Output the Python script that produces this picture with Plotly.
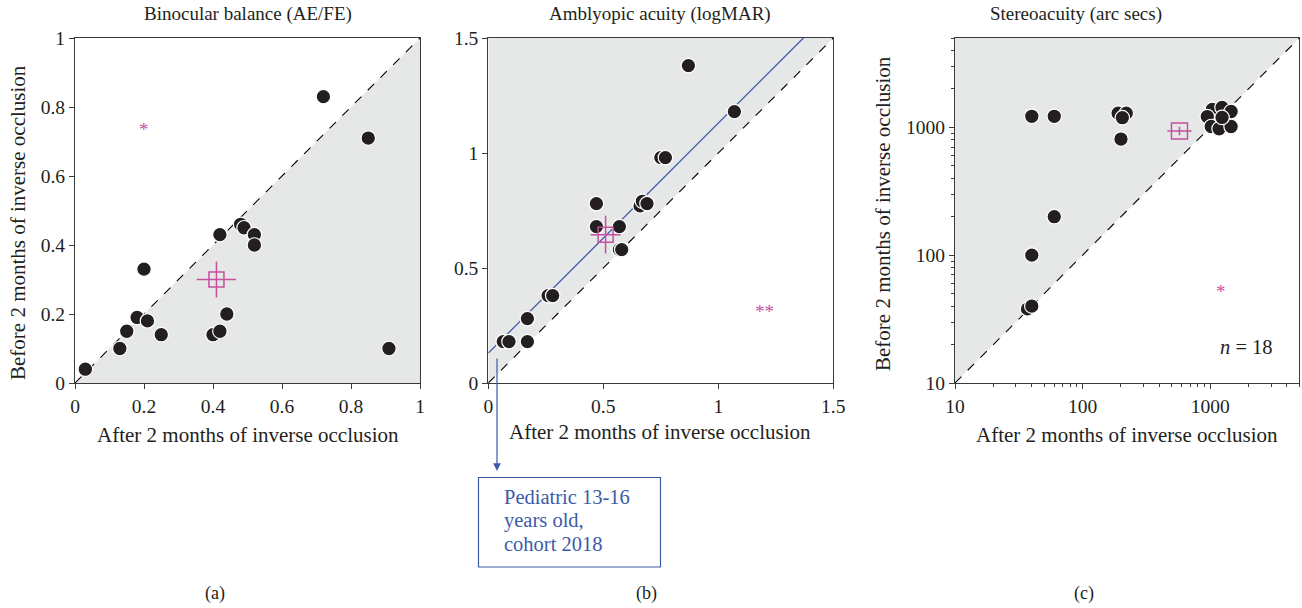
import plotly.graph_objects as go
import math

# ---------------- data ----------------
# Panel (a) Binocular balance (AE/FE)
bal_after = [0.03, 0.13, 0.15, 0.18, 0.21, 0.20, 0.25, 0.40, 0.42, 0.44, 0.42, 0.48, 0.49, 0.52, 0.52, 0.72, 0.85, 0.91]
bal_before = [0.04, 0.10, 0.15, 0.19, 0.18, 0.33, 0.14, 0.14, 0.15, 0.20, 0.43, 0.46, 0.45, 0.43, 0.40, 0.83, 0.71, 0.10]
bal_mean = (0.41, 0.30)
bal_err = (0.057, 0.052)
bal_star = (0.20, 0.735)

# Panel (b) Amblyopic acuity (logMAR)
acu_after = [0.065, 0.09, 0.17, 0.17, 0.26, 0.28, 0.47, 0.47, 0.57, 0.57, 0.58, 0.66, 0.67, 0.69, 0.75, 0.77, 0.87, 1.07]
acu_before = [0.18, 0.18, 0.18, 0.28, 0.38, 0.38, 0.78, 0.68, 0.68, 0.58, 0.58, 0.77, 0.79, 0.78, 0.98, 0.98, 1.38, 1.18]
acu_mean = (0.51, 0.645)
acu_err = (0.065, 0.082)
acu_fit = (1.0, 0.13)  # slope, intercept
acu_star = (1.20, 0.31)

# Panel (c) Stereoacuity (arc secs)
st_after = [40, 60, 60, 40, 37, 40, 190, 220, 205, 200, 1040, 1240, 1460, 950, 1020, 1175, 1460, 1240]
st_before = [1220, 1220, 200, 100, 38, 40, 1290, 1290, 1190, 810, 1380, 1430, 1330, 1215, 1015, 975, 1015, 1195]
st_mean = (575, 935)
st_err_x = (140, 113)
st_err_y = (75, 68)
st_star = (1220, 52)

bal_ticks = [0, 0.2, 0.4, 0.6, 0.8, 1]
bal_ticktext = ["0", "0.2", "0.4", "0.6", "0.8", "1"]
acu_ticks = [0, 0.5, 1, 1.5]
acu_ticktext = ["0", "0.5", "1", "1.5"]
st_ticks = [10, 100, 1000]
st_ticktext = ["10", "100", "1000"]
st_minor = [20, 30, 40, 50, 60, 70, 80, 90, 200, 300, 400, 500, 600, 700, 800, 900, 2000, 3000, 4000, 5000]

titles = ["Binocular balance (AE/FE)", "Amblyopic acuity (logMAR)", "Stereoacuity (arc secs)"]
xlabel = "After 2 months of inverse occlusion"
ylabel = "Before 2 months of inverse occlusion"
panel_labels = ["(a)", "(b)", "(c)"]
box_lines = ["Pediatric 13-16", "years old,", "cohort 2018"]

# ---------------- style ----------------
W, H = 1302, 608
FONT = "Liberation Serif"
DOT = "#231f20"
MAG = "#c4509f"
BLUE = "#3c5aa8"
SHADE = "#e6e7e7"
AXC = "#3a3a3a"
TXT = "#231f20"


def px(x):
    return x / W


def py(y):
    return 1 - y / H


fig = go.Figure()

dom_x = [(75, 420), (488.3, 833.3), (955, 1299.3)]
dom_y = (38, 383)
MS = 14.5

# ---- panel a ----
lo, hi = bal_ticks[0], bal_ticks[-1]
fig.add_trace(go.Scatter(x=[lo, hi, hi, lo], y=[lo, lo, hi, lo], fill="toself", fillcolor=SHADE,
                         line=dict(width=0), mode="lines", hoverinfo="skip", xaxis="x", yaxis="y"))
fig.add_trace(go.Scatter(x=[lo, hi], y=[lo, hi], mode="lines", line=dict(color="black", width=1.1, dash="dash"),
                         xaxis="x", yaxis="y"))
fig.add_trace(go.Scatter(x=bal_after, y=bal_before, mode="markers",
                         marker=dict(size=MS, color=DOT, line=dict(color="white", width=1.2)), xaxis="x", yaxis="y"))
fig.add_trace(go.Scatter(x=[bal_mean[0]], y=[bal_mean[1]], mode="markers",
                         marker=dict(symbol="square-open", size=15, color=MAG, line=dict(width=1.5)),
                         error_x=dict(type="constant", value=bal_err[0], width=0, color=MAG, thickness=1.5),
                         error_y=dict(type="constant", value=bal_err[1], width=0, color=MAG, thickness=1.5),
                         xaxis="x", yaxis="y"))

# ---- panel b ----
lo, hi = acu_ticks[0], acu_ticks[-1]
fig.add_trace(go.Scatter(x=[lo, hi, lo, lo], y=[lo, hi, hi, lo], fill="toself", fillcolor=SHADE,
                         line=dict(width=0), mode="lines", hoverinfo="skip", xaxis="x2", yaxis="y2"))
fig.add_trace(go.Scatter(x=[lo, hi], y=[lo, hi], mode="lines", line=dict(color="black", width=1.1, dash="dash"),
                         xaxis="x2", yaxis="y2"))
fx_end = (hi - acu_fit[1]) / acu_fit[0]
fig.add_trace(go.Scatter(x=[lo, fx_end], y=[acu_fit[1], hi], mode="lines", line=dict(color=BLUE, width=1.3),
                         xaxis="x2", yaxis="y2"))
fig.add_trace(go.Scatter(x=acu_after, y=acu_before, mode="markers",
                         marker=dict(size=MS, color=DOT, line=dict(color="white", width=1.2)), xaxis="x2", yaxis="y2"))
fig.add_trace(go.Scatter(x=[acu_mean[0]], y=[acu_mean[1]], mode="markers",
                         marker=dict(symbol="square-open", size=15, color=MAG, line=dict(width=1.5)),
                         error_x=dict(type="constant", value=acu_err[0], width=0, color=MAG, thickness=1.5),
                         error_y=dict(type="constant", value=acu_err[1], width=0, color=MAG, thickness=1.5),
                         xaxis="x2", yaxis="y2"))

# ---- panel c ----
lo, hi = st_ticks[0], st_minor[-1]
fig.add_trace(go.Scatter(x=[lo, hi, lo, lo], y=[lo, hi, hi, lo], fill="toself", fillcolor=SHADE,
                         line=dict(width=0), mode="lines", hoverinfo="skip", xaxis="x3", yaxis="y3"))
fig.add_trace(go.Scatter(x=[lo, hi], y=[lo, hi], mode="lines", line=dict(color="black", width=1.1, dash="dash"),
                         xaxis="x3", yaxis="y3"))
fig.add_trace(go.Scatter(x=st_after, y=st_before, mode="markers",
                         marker=dict(size=MS, color=DOT, line=dict(color="white", width=1.2)), xaxis="x3", yaxis="y3"))
fig.add_trace(go.Scatter(x=[st_mean[0]], y=[st_mean[1]], mode="markers",
                         marker=dict(symbol="square-open", size=16, color=MAG, line=dict(width=1.5)),
                         error_x=dict(type="data", array=[st_err_x[0]], arrayminus=[st_err_x[1]], width=0,
                                      color=MAG, thickness=1.5),
                         error_y=dict(type="data", array=[st_err_y[0]], arrayminus=[st_err_y[1]], width=0,
                                      color=MAG, thickness=1.5),
                         xaxis="x3", yaxis="y3"))

tickfont = dict(family=FONT, size=19.5, color=TXT)
common = dict(showgrid=False, zeroline=False, showline=True, linecolor=AXC, linewidth=1.2, mirror=True,
              ticks="outside", ticklen=5, tickcolor=AXC, tickwidth=1.2, tickfont=tickfont, automargin=False)

ydom = [py(dom_y[1]), py(dom_y[0])]
fig.update_layout(
    template="none",
    width=W, height=H, margin=dict(l=0, r=0, t=0, b=0, pad=0, autoexpand=False),
    paper_bgcolor="white", plot_bgcolor="rgba(0,0,0,0)", showlegend=False,
    xaxis=dict(domain=[px(dom_x[0][0]), px(dom_x[0][1])], range=[0, 1], tickvals=bal_ticks, ticktext=bal_ticktext,
               anchor="y", **common),
    yaxis=dict(domain=ydom, range=[0, 1], tickvals=bal_ticks, ticktext=bal_ticktext, anchor="x", **common),
    xaxis2=dict(domain=[px(dom_x[1][0]), px(dom_x[1][1])], range=[0, 1.5], tickvals=acu_ticks,
                ticktext=acu_ticktext, anchor="y2", **common),
    yaxis2=dict(domain=ydom, range=[0, 1.5], tickvals=acu_ticks, ticktext=acu_ticktext, anchor="x2", **common),
    xaxis3=dict(domain=[px(dom_x[2][0]), px(dom_x[2][1])], type="log", range=[1, math.log10(st_minor[-1])],
                tickvals=st_ticks, ticktext=st_ticktext, anchor="y3",
                minor=dict(tickvals=st_minor, ticklen=3, tickcolor=AXC, tickwidth=1, ticks="outside"), **common),
    yaxis3=dict(domain=ydom, type="log", range=[1, math.log10(st_minor[-1])],
                tickvals=st_ticks, ticktext=st_ticktext, anchor="x3",
                minor=dict(tickvals=st_minor, ticklen=3, tickcolor=AXC, tickwidth=1, ticks="outside"), **common),
)

ann = []
tf = dict(family=FONT, size=19, color=TXT)
lf = dict(family=FONT, size=21, color=TXT)
# titles
for t, xc in zip(titles, [248, 660, 1076]):
    ann.append(dict(text=t, x=px(xc), y=py(14), xref="paper", yref="paper", showarrow=False, font=tf,
                    xanchor="center", yanchor="middle"))
# x labels
for xc, yc in zip([248, 660, 1127], [435, 432, 435]):
    ann.append(dict(text=xlabel, x=px(xc), y=py(yc), xref="paper", yref="paper", showarrow=False,
                    font=lf, xanchor="center", yanchor="middle"))
# y labels
for xc, yc in zip([18, 883], [223, 214]):
    ann.append(dict(text=ylabel, x=px(xc), y=py(yc), xref="paper", yref="paper", showarrow=False, textangle=-90,
                    font=lf, xanchor="center", yanchor="middle"))
# panel labels
for t, xc in zip(panel_labels, [215, 646, 1084]):
    ann.append(dict(text=t, x=px(xc), y=py(593), xref="paper", yref="paper", showarrow=False,
                    font=dict(family=FONT, size=18, color=TXT), xanchor="center", yanchor="middle"))
# significance stars
sf = dict(family=FONT, size=19, color=MAG)
ann.append(dict(text="*", x=bal_star[0], y=bal_star[1], xref="x", yref="y", showarrow=False, font=sf))
ann.append(dict(text="**", x=acu_star[0], y=acu_star[1], xref="x2", yref="y2", showarrow=False, font=sf))
ann.append(dict(text="*", x=math.log10(st_star[0]), y=math.log10(st_star[1]), xref="x3", yref="y3",
                showarrow=False, font=sf))
ann.append(dict(text="<i>n</i> = 18", x=px(1275), y=py(347), xref="paper", yref="paper", showarrow=False,
                font=dict(family=FONT, size=20.5, color=TXT), xanchor="right", yanchor="middle"))
# arrow
ann.append(dict(text="", x=px(497), y=py(471), xref="paper", yref="paper", showarrow=True, ax=0, ay=-114,
                axref="pixel", ayref="pixel", arrowhead=2, arrowsize=1.3, arrowwidth=1.2, arrowcolor=BLUE))
# box text
for t, yc in zip(box_lines, [497, 520.5, 544]):
    ann.append(dict(text=t, x=px(502), y=py(yc), xref="paper", yref="paper", showarrow=False, align="left",
                    font=dict(family=FONT, size=20.5, color=BLUE), xanchor="left", yanchor="middle"))
fig.update_layout(annotations=ann)
fig.add_shape(type="rect", xref="paper", yref="paper", x0=px(478.5), x1=px(660.5), y0=py(567), y1=py(477.5),
              line=dict(color=BLUE, width=1.2))

fig.write_html("out.html", config={"displayModeBar": False},
               post_script="document.body.style.margin='0px';document.body.style.overflow='hidden';")
